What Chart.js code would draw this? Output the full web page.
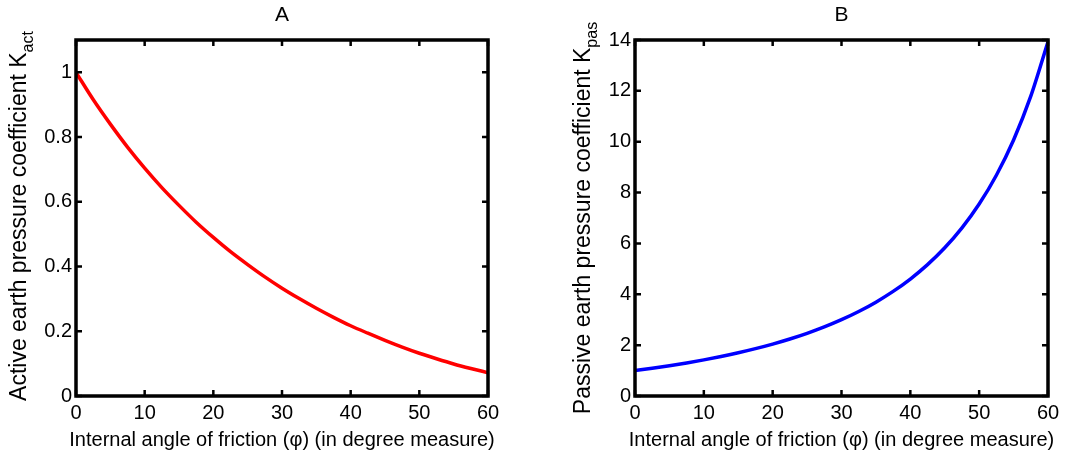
<!DOCTYPE html>
<html>
<head>
<meta charset="utf-8">
<script src="https://cdn.jsdelivr.net/npm/chart.js@4/dist/chart.umd.min.js"></script>
<style>
  body { margin: 0; background: #fff; }
  #wrap { position: relative; width: 1081px; height: 456px; }
  canvas { position: absolute; top: 0; }
</style>
</head>
<body>
<div id="wrap">
  <canvas id="chart-a" width="540" height="456" style="left:0"></canvas>
  <canvas id="chart-b" width="541" height="456" style="left:540px"></canvas>
</div>
<script>
// friction angle (degrees)
const angles = [0, 2.5, 5, 7.5, 10, 12.5, 15, 17.5, 20, 22.5, 25, 27.5, 30,
                32.5, 35, 37.5, 40, 42.5, 45, 47.5, 50, 52.5, 55, 57.5, 60];
// panel A: active earth pressure coefficient
const kAct = [1.0, 0.916, 0.840, 0.769, 0.704, 0.644, 0.589, 0.537, 0.490, 0.446, 0.406, 0.368, 0.333,
              0.301, 0.271, 0.243, 0.217, 0.194, 0.172, 0.151, 0.132, 0.115, 0.099, 0.085, 0.072];
// panel B: passive earth pressure coefficient
const kPas = [1.0, 1.092, 1.191, 1.300, 1.420, 1.553, 1.698, 1.861, 2.040, 2.241, 2.464, 2.716, 3.0,
              3.322, 3.690, 4.113, 4.599, 5.165, 5.828, 6.613, 7.549, 8.683, 10.07, 11.79, 13.93];

const xTicks = [0, 10, 20, 30, 40, 50, 60];
const yTicksA = [0, 0.2, 0.4, 0.6, 0.8, 1];
const yTicksB = [0, 2, 4, 6, 8, 10, 12, 14];

const FONT = '"Liberation Sans", Arial, sans-serif';
const xTitle = 'Internal angle of friction (\u03C6) (in degree measure)';

// 边框 + 向内刻度 + 标题
const framePlugin = {
  id: 'frame',
  afterDraw(chart, args, opts) {
    const { ctx, chartArea: a } = chart;
    const xs = chart.scales.x, ys = chart.scales.y;
    ctx.save();
    ctx.strokeStyle = '#000';
    ctx.lineWidth = 2.5;
    ctx.beginPath();
    xs.ticks.forEach(t => {
      const px = xs.getPixelForValue(t.value);
      ctx.moveTo(px, a.bottom); ctx.lineTo(px, a.bottom - 6);
      ctx.moveTo(px, a.top); ctx.lineTo(px, a.top + 6);
    });
    ys.ticks.forEach(t => {
      const py = ys.getPixelForValue(t.value);
      ctx.moveTo(a.left, py); ctx.lineTo(a.left + 6, py);
      ctx.moveTo(a.right, py); ctx.lineTo(a.right - 6, py);
    });
    ctx.stroke();
    ctx.lineWidth = 3.5;
    ctx.strokeRect(a.left, a.top, a.right - a.left, a.bottom - a.top);

    // 面板标题
    ctx.fillStyle = '#000';
    ctx.font = '21px ' + FONT;
    ctx.textAlign = 'center';
    ctx.textBaseline = 'middle';
    ctx.fillText(opts.title, (a.left + a.right) / 2, 15);

    // x轴标题
    ctx.font = '20px ' + FONT;
    ctx.fillText(xTitle, (a.left + a.right) / 2, 440);

    // y轴标题（带下标）
    const mainFont = '23px ' + FONT, subFont = '16px ' + FONT;
    ctx.font = mainFont;
    const wMain = ctx.measureText(opts.yMain).width;
    ctx.font = subFont;
    const wSub = ctx.measureText(opts.ySub).width;
    const total = wMain + wSub;
    ctx.translate(opts.yTitleX, opts.yTitleY);
    ctx.rotate(-Math.PI / 2);
    ctx.textAlign = 'left';
    ctx.font = mainFont;
    ctx.fillText(opts.yMain, -total / 2, 0);
    ctx.font = subFont;
    ctx.fillText(opts.ySub, -total / 2 + wMain, 9);
    ctx.restore();
  }
};

function makeChart(id, values, color, yMax, yTicks, cfg) {
  return new Chart(document.getElementById(id), {
    type: 'line',
    data: {
      datasets: [{
        data: angles.map((a, i) => ({ x: a, y: values[i] })),
        borderColor: color,
        borderWidth: 3.5,
        pointRadius: 0,
        cubicInterpolationMode: 'monotone',
        fill: false
      }]
    },
    options: {
      responsive: false,
      devicePixelRatio: 1,
      animation: false,
      layout: { padding: { left: 0, top: 40, right: cfg.padRight, bottom: 0 } },
      plugins: {
        legend: { display: false },
        tooltip: { enabled: false },
        frame: cfg.frame
      },
      scales: {
        x: {
          type: 'linear',
          min: 0,
          max: 60,
          afterBuildTicks: s => { s.ticks = xTicks.map(v => ({ value: v })); },
          afterFit: s => { s.height = 60; },
          grid: { display: false, drawTicks: false },
          border: { display: false },
          ticks: { color: '#000', font: { family: FONT, size: 20 }, padding: 5, maxRotation: 0 }
        },
        y: {
          min: 0,
          max: yMax,
          afterBuildTicks: s => { s.ticks = yTicks.map(v => ({ value: v })); },
          afterFit: s => { s.width = cfg.yWidth; },
          grid: { display: false, drawTicks: false },
          border: { display: false },
          ticks: { color: '#000', font: { family: FONT, size: 20 }, padding: 4, callback: v => String(v) }
        }
      }
    },
    plugins: [framePlugin]
  });
}

makeChart('chart-a', kAct, '#ff0000', 1.1, yTicksA, {
  padRight: 52,
  yWidth: 76,
  frame: { title: 'A', yMain: 'Active earth pressure coefficient K', ySub: 'act', yTitleX: 20, yTitleY: 216 }
});

makeChart('chart-b', kPas, '#0000ff', 14, yTicksB, {
  padRight: 33,
  yWidth: 95,
  frame: { title: 'B', yMain: 'Passive earth pressure coefficient K', ySub: 'pas', yTitleX: 44, yTitleY: 218 }
});
</script>
</body>
</html>
